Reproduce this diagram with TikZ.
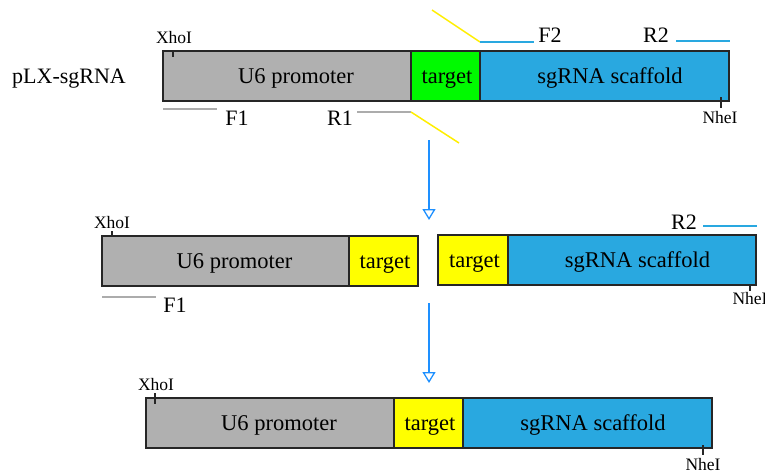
\documentclass[tikz,border=0pt]{standalone}
\usepackage{fontspec}
\setmainfont{Liberation Serif}
\usetikzlibrary{arrows.meta,calc}
\definecolor{promgray}{RGB}{176,176,176}
\definecolor{tgreen}{RGB}{0,250,0}
\definecolor{tyellow}{RGB}{255,255,0}
\definecolor{scblue}{RGB}{41,168,224}
\definecolor{arrblue}{RGB}{30,144,255}
\definecolor{pgray}{RGB}{172,172,172}
\definecolor{pyellow}{RGB}{255,238,0}
\definecolor{pblue}{RGB}{41,168,224}
\begin{document}
\begin{tikzpicture}[x=1pt,y=-1pt,
  seg/.style={draw=black!85, line width=1.3pt, anchor=north west, minimum height=50pt,
    inner sep=0pt, outer sep=0pt, text height=15pt, text depth=0pt, font=\fontsize{22.5}{25}\selectfont},
  lab/.style={font=\fontsize{22}{25}\selectfont, inner sep=0pt},
  site/.style={font=\fontsize{17.5}{20}\selectfont, inner sep=0pt},
  tickmark/.style={line width=1.3pt, draw=black!85},
  primer/.style={line width=1.5pt},
  flow/.style={draw=arrblue, line width=1.3pt, -{Triangle[open,length=11pt,width=13pt]}}]
\useasboundingbox (0,0) rectangle (765,474);
\clip (0,0) rectangle (765,474);

% ---------- top row ----------
\node[lab, anchor=base west] (plx) at (12,83) {pLX-sgRNA};
\node[seg, fill=promgray, minimum width=248pt] (u1) at (163,51) {\hspace*{18pt}U6 promoter};
\node[seg, fill=tgreen, minimum width=69pt] (t1) at (u1.north east) {\hspace*{3pt}target};
\node[seg, fill=scblue, minimum width=249pt] (s1) at (t1.north east) {\hspace*{11pt}sgRNA scaffold};

\draw[tickmark] ($(u1.north west)+(10,0)$) -- ++(0,6);
\node[site] (x1) at (174,38) {XhoI};
\draw[tickmark] ($(s1.south east)+(-8,-4)$) -- ++(0,11);
\node[site] (n1) at (720,118) {NheI};

\coordinate (f1a) at (163,109);
\coordinate (f1b) at (217,109);
\draw[primer, pgray] (f1a) -- (f1b);
\node[lab] (F1a) at (237,118) {F1};

\coordinate (r1a) at (357,112);
\coordinate (r1b) at (411,112);
\coordinate (r1c) at (459,143);
\draw[primer, pgray] (r1a) -- (r1b);
\draw[primer, pyellow] (r1b) -- (r1c);
\node[lab] (R1a) at (340,118) {R1};

\coordinate (f2a) at (432,10);
\coordinate (f2b) at (480,42);
\coordinate (f2c) at (534,42);
\draw[primer, pyellow] (f2a) -- (f2b);
\draw[primer, pblue] (f2b) -- (f2c);
\node[lab] (F2a) at (550,35) {F2};

\coordinate (r2a) at (676,41);
\coordinate (r2b) at (730,41);
\draw[primer, pblue] (r2a) -- (r2b);
\node[lab] (R2a) at (656,35) {R2};

% ---------- arrows ----------
\coordinate (a1s) at (429,140);
\coordinate (a1e) at (429,220);
\coordinate (a2s) at (429,303);
\coordinate (a2e) at (429,383);
\draw[flow] (a1s) -- (a1e);
\draw[flow] (a2s) -- (a2e);

% ---------- middle row ----------
\node[seg, fill=promgray, minimum width=247pt] (u2) at (102,236) {\hspace*{18pt}U6 promoter};
\node[seg, fill=tyellow, minimum width=69pt] (t2) at (u2.north east) {\hspace*{3pt}target};
\node[seg, fill=tyellow, minimum width=70pt] (t3) at (438,235) {\hspace*{3pt}target};
\node[seg, fill=scblue, minimum width=248pt] (s2) at (t3.north east) {\hspace*{11pt}sgRNA scaffold};

\draw[tickmark] ($(u2.north west)+(10,0)$) -- ++(0,-5);
\node[site] (x2) at (112,223) {XhoI};
\draw[tickmark] ($(s2.south east)+(-6,0)$) -- ++(0,6);
\node[site] (n2) at (750,299) {NheI};

\coordinate (f1c) at (102,297);
\coordinate (f1d) at (156,297);
\draw[primer, pgray] (f1c) -- (f1d);
\node[lab] (F1b) at (175,305) {F1};

\coordinate (r2c) at (703,226);
\coordinate (r2d) at (757,226);
\draw[primer, pblue] (r2c) -- (r2d);
\node[lab] (R2b) at (684,222) {R2};

% ---------- bottom row ----------
\node[seg, fill=promgray, minimum width=248pt] (u3) at (146,398) {\hspace*{18pt}U6 promoter};
\node[seg, fill=tyellow, minimum width=69pt] (t4) at (u3.north east) {\hspace*{3pt}target};
\node[seg, fill=scblue, minimum width=249pt] (s3) at (t4.north east) {\hspace*{11pt}sgRNA scaffold};

\draw[tickmark] ($(u3.north west)+(9,-5)$) -- ++(0,11);
\node[site] (x3) at (156,385) {XhoI};
\draw[tickmark] ($(s3.south east)+(-9,-3)$) -- ++(0,10);
\node[site] (n3) at (703,464.5) {NheI};
\end{tikzpicture}
\end{document}
